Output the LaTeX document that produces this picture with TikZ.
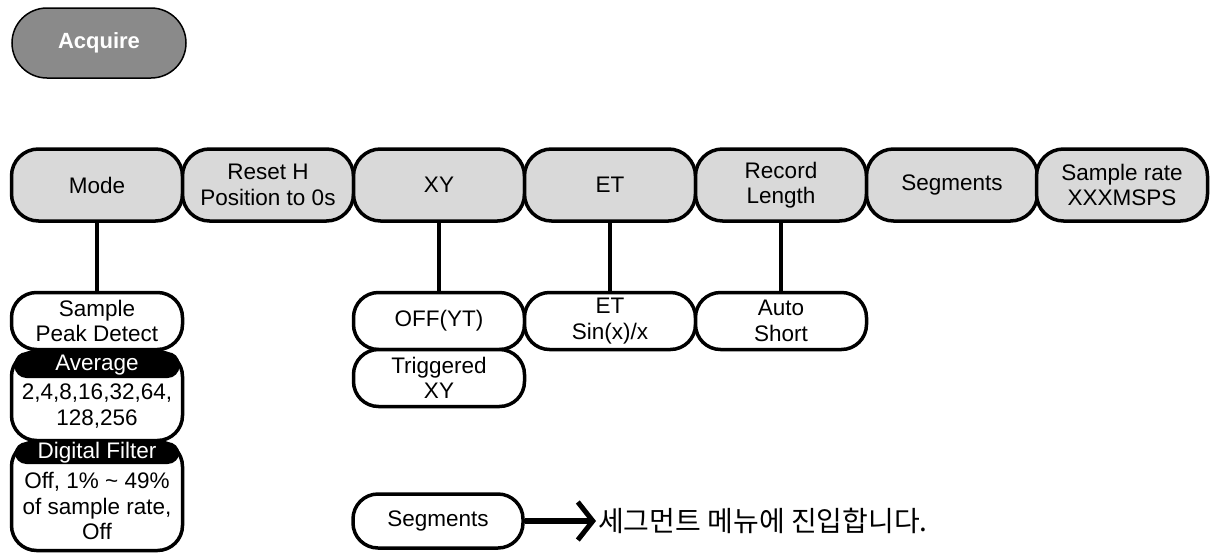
\documentclass[tikz,border=0pt]{standalone}
\usepackage{fontspec}
\setmainfont{Liberation Sans}
\newfontfamily\krfont{Noto Sans CJK KR}
\usetikzlibrary{arrows.meta,positioning}
\definecolor{keygray}{RGB}{217,217,217}
\definecolor{acqgray}{RGB}{138,138,138}
\tikzset{softkey/.style={draw,line width=3.5pt,rounded corners=27pt,fill=keygray,
    minimum width=171pt,minimum height=72pt,align=center,inner sep=0pt},
  subkey/.style={draw,line width=3.5pt,rounded corners=25pt,fill=white,
    minimum width=171pt,align=center,inner sep=0pt},
  headbar/.style={fill=black,rounded corners=12pt,minimum width=165pt,
    inner sep=0pt,text=white},
  link/.style={line width=4pt}}
\begin{document}
\begin{tikzpicture}[x=1pt, y=-1pt, font=\fontsize{22.5}{25.5}\selectfont]
\useasboundingbox (0,0) rectangle (1215,552);
\node[draw, line width=1.5pt, fill=acqgray, rounded corners=35pt, minimum width=174pt,
  minimum height=70pt, text=white, font=\fontsize{22}{25}\selectfont\bfseries]
  (acquire) at (99,43) {Acquire};
% soft keys
\node[softkey] (mode) at (97,185) {Mode};
\node[softkey] (reset) at (268,185) {Reset H\\Position to 0s};
\node[softkey] (xy) at (439,185) {XY};
\node[softkey] (et) at (610,185) {ET};
\node[softkey] (record) at (781,185) {Record\\Length};
\node[softkey] (segs) at (952,185) {Segments};
\node[softkey] (rate) at (1122,185) {Sample rate\\XXXMSPS};
% sub menus
\node[subkey, minimum height=57pt] (modesub) at (97,321) {Sample\\Peak Detect};
\node[subkey, minimum height=89pt] (avgbox) at (97,396) {};
\node[headbar, minimum height=26pt] (avghead) at (97,365) {Average};
\node[align=center] (avgtext) at (97,406) {2,4,8,16,32,64,\\128,256};
\node[subkey, minimum height=109pt] (filtbox) at (97,496) {};
\node[headbar, minimum height=22pt] (filthead) at (97,453) {Digital Filter};
\node[align=center] (filttext) at (97,506) {Off, 1\% \textasciitilde{} 49\%\\of sample rate,\\Off};
\node[subkey, minimum height=57pt] (xyoff) at (439,321) {OFF(YT)};
\node[subkey, minimum height=57pt] (xytrig) at (439,378) {Triggered\\XY};
\node[subkey, minimum height=57pt] (etsub) at (610,321) {ET\\Sin(x)/x};
\node[subkey, minimum height=57pt] (recsub) at (781,321) {Auto\\Short};
\draw[link] (mode.south) -- (modesub.north);
\draw[link] (xy.south) -- (xyoff.north);
\draw[link] (et.south) -- (etsub.north);
\draw[link] (record.south) -- (recsub.north);
% note
\node[subkey, minimum width=170pt, minimum height=54pt] (segnote) at (438,521) {Segments};
\node[anchor=west, font=\krfont\fontsize{28}{30}\selectfont, inner sep=2pt] (segtext) at (596,521) {세그먼트 메뉴에 진입합니다.};
\draw[line width=6pt, -{Straight Barb[length=15pt,width=38pt,line width=5pt]}] (segnote.east) -- (segtext.west);
\end{tikzpicture}
\end{document}
